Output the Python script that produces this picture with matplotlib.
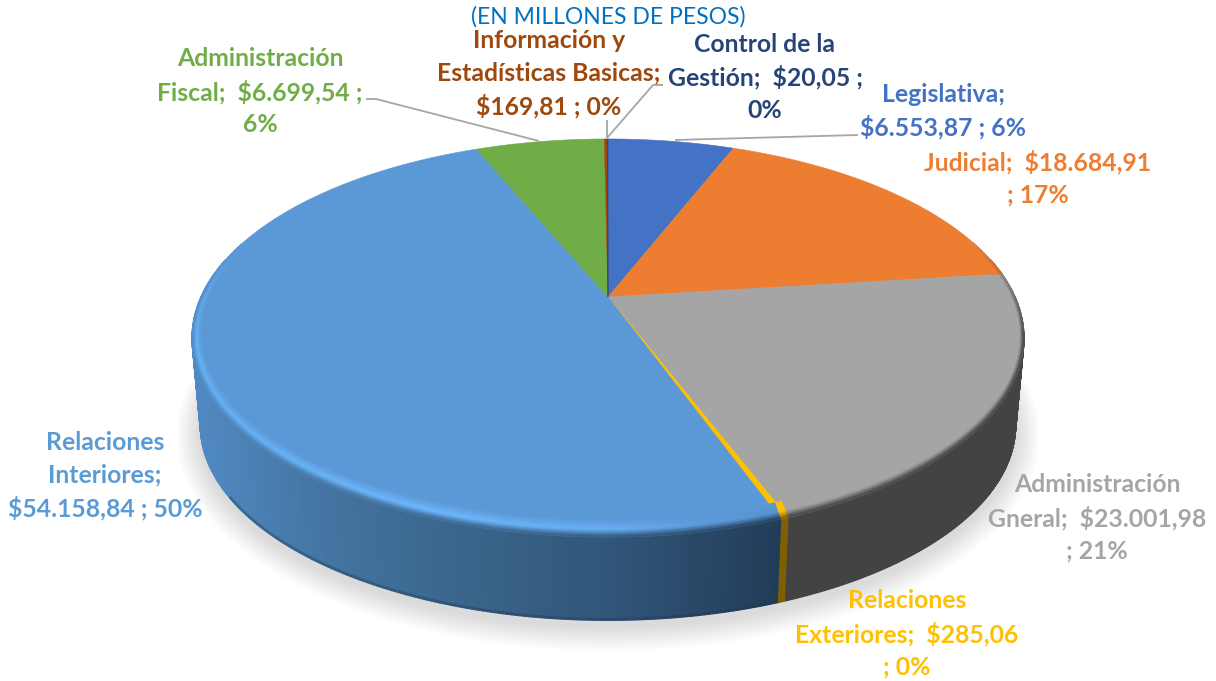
import numpy as np
import matplotlib
matplotlib.use('Agg')
import matplotlib.pyplot as plt
from matplotlib.collections import PolyCollection
from matplotlib.colors import to_rgb

plt.rcParams['font.family'] = ['Lato', 'DejaVu Sans']

# data, clockwise from the top of the pie
sectors = ['Legislativa', 'Judicial', 'Administración Gneral', 'Relaciones Exteriores',
           'Relaciones Interiores', 'Administración Fiscal', 'Información y Estadísticas Basicas',
           'Control de la Gestión']
values = [6553.87, 18684.91, 23001.98, 285.06, 54158.84, 6699.54, 169.81, 20.05]
title = '(EN MILLONES DE PESOS)'

colors = ['#4472c4', '#ed7d31', '#a5a5a5', '#ffc000', '#5b9bd5', '#70ad47', '#9e480e', '#264478']
top_colors = ['#4472c4', '#ed7d31', '#a5a5a5', '#ffc000', '#5b98d6', '#70ad47', '#9e480e', '#264478']

# how each label breaks over lines
label_lines = [
    ['Legislativa;', '$6.553,87 ; 6%'],
    ['Judicial;  $18.684,91', '; 17%'],
    ['Administración', 'Gneral;  $23.001,98', '; 21%'],
    ['Relaciones', 'Exteriores;  $285,06', '; 0%'],
    ['Relaciones', 'Interiores;', '$54.158,84 ; 50%'],
    ['Administración', 'Fiscal;  $6.699,54 ;', '6%'],
    ['Información y', 'Estadísticas Basicas;', '$169,81 ; 0%'],
    ['Control de la', 'Gestión;  $20,05 ;', '0%'],
]
label_x = [943, 1038, 1097, 907, 105, 260, 549, 765]
label_y = [94, 162, 485, 601, 442, 59, 40, 44]
line_gap = 33

leaders = [
    ([366, 376, 539], [99, 99, 141]),
    ([607, 607], [120, 138]),
    ([663, 653, 607], [85, 85, 138]),
    ([675, 858], [140, 135]),
]

# perspective of the disc
cx, cy = 608, 297
A, B, k = 407, 190.6, 0.206
drop, shrink = 88, 0.98
front_warp = np.radians(1.75)


def project(theta, r=1.0, ry=None, lower=False):
    ry = r if ry is None else ry
    theta = theta + front_warp * np.maximum(0, -np.cos(theta)) * np.sin(theta)
    x = r * np.sin(theta)
    y = ry * np.cos(theta)
    d = 1 + k * y
    if lower:
        return cx + shrink * A * x / d, cy + drop - shrink * B * y / d
    return cx + A * x / d, cy - B * y / d


def blend(c1, c2, t):
    return tuple(np.array(to_rgb(c1)) * (1 - t) + np.array(to_rgb(c2)) * t)


def gradient(stops_x, stops_c, sx):
    rgb = np.array([to_rgb(c) for c in stops_c])
    return tuple(np.interp(sx, stops_x, rgb[:, i]) for i in range(3))


def side_color(i, sx):
    if i == 4:
        return gradient([195, 333, 480, 608, 780], ['#5089c2', '#43739f', '#396388', '#31567a', '#223c58'], sx)
    if i == 2:
        return to_rgb('#434343')
    if i == 3:
        return to_rgb('#7f6000')
    return blend(colors[i], '#000000', 0.5)


def shine_color(i, sx):
    if i == 4:
        return gradient([195, 450, 620, 720, 780], ['#66b2f3', '#6fb8ff', '#68aef2', '#5b98d6', '#5594cf'], sx)
    return to_rgb(top_colors[i])


def rim_color(i, sx, t):
    if t < 0.6:
        return blend(top_colors[i], shine_color(i, sx), t / 0.6)
    return blend(shine_color(i, sx), side_color(i, sx), (t - 0.6) / 0.4)


fig = plt.figure(figsize=(12.16, 6.81), dpi=100)
ax = fig.add_axes([0, 0, 1, 1])
ax.set_xlim(0, 1216)
ax.set_ylim(681, 0)
ax.axis('off')

edges = np.radians(np.concatenate([[0], np.cumsum(values)]) / np.sum(values) * 360)

# soft shadow under the disc
ring = np.linspace(0, 2 * np.pi, 361)
for g in np.linspace(24, 2, 12):
    sx, sy = project(ring, lower=True)
    sx = cx + (sx - cx) * (1 + g / 410)
    sy = cy + drop + 6 + (sy - cy - drop) * (1 + g / 230)
    ax.fill(sx, sy, color='black', alpha=0.011, lw=0, zorder=1)

# side wall, in thin strips so that it can carry a gradient
verts, cols = [], []
for i in range(len(values)):
    steps = max(2, int(np.degrees(edges[i + 1] - edges[i]) * 2))
    th = np.linspace(edges[i], edges[i + 1], steps + 1)
    for a, b in zip(th[:-1], th[1:]):
        if np.cos(a) > 0.2 and np.cos(b) > 0.2:
            continue
        x1, y1 = project(np.array([a, b]))
        x2, y2 = project(np.array([b, a]), lower=True)
        verts.append(list(zip(np.r_[x1, x2], np.r_[y1, y2])))
        cols.append(side_color(i, x1.mean()))
ax.add_collection(PolyCollection(verts, facecolors=cols, edgecolors=cols, linewidths=1.0, zorder=2))

# darker lip along the bottom of the big slice
th = np.linspace(edges[4], np.radians(238), 100)
x, y = project(th, lower=True)
ax.plot(x, y - 1, color='#1d3550', lw=2, alpha=0.35, zorder=2.5)

# top face
for i in range(len(values)):
    th = np.linspace(edges[i], edges[i + 1], max(3, int(np.degrees(edges[i + 1] - edges[i]) * 2)))
    x, y = project(th)
    ax.fill(np.r_[cx, x], np.r_[cy, y], color=top_colors[i], lw=0.4, zorder=3)

# rounded rim between top face and wall
verts, cols = [], []
n_rim = 10
for j in range(n_rim):
    t1, t2 = j / n_rim, (j + 1) / n_rim
    for i in range(len(values)):
        steps = max(2, int(np.degrees(edges[i + 1] - edges[i]) * 2))
        th = np.linspace(edges[i], edges[i + 1], steps + 1)
        for a, b in zip(th[:-1], th[1:]):
            fade = np.clip((0.3 - np.cos((a + b) / 2)) / 0.5, 0, 1)
            if fade == 0:
                continue
            rx1, ry1 = 0.98 + 0.02 * t1, 0.94 + 0.06 * t1
            rx2, ry2 = 0.98 + 0.02 * t2, 0.94 + 0.06 * t2
            x1, y1 = project(np.array([a, b]), rx1, ry1)
            x2, y2 = project(np.array([b, a]), rx2, ry2)
            c = blend(top_colors[i], rim_color(i, x1.mean(), (t1 + t2) / 2), fade)
            verts.append(list(zip(np.r_[x1, x2], np.r_[y1, y2])))
            cols.append(c)
ax.add_collection(PolyCollection(verts, facecolors=cols, edgecolors=cols, linewidths=0.6, zorder=4))

# leader lines
for lx, ly in leaders:
    ax.plot(lx, ly, color='#a6a6a6', lw=1.3, zorder=5, solid_capstyle='butt')

# labels
for i in range(len(values)):
    for n, line in enumerate(label_lines[i]):
        ax.text(label_x[i], label_y[i] + n * line_gap, line, color=colors[i], fontsize=17.8,
                fontweight='bold', ha='center', va='center', zorder=6)

ax.text(608, 17, title, color='#0070c0', fontsize=16.5, ha='center', va='center', zorder=6)

plt.savefig('out.png', dpi=100)
